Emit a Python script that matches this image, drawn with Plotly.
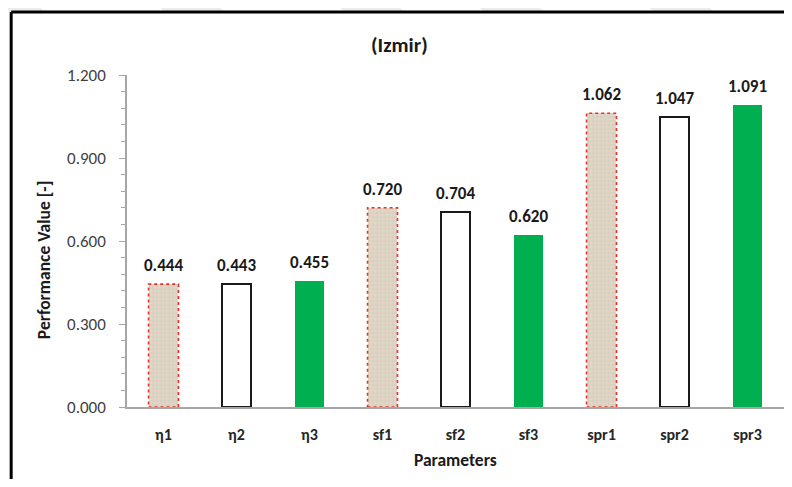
import plotly.graph_objects as go

# data
categories = ["η1", "η2", "η3", "sf1", "sf2", "sf3", "spr1", "spr2", "spr3"]
values = [0.444, 0.443, 0.455, 0.720, 0.704, 0.620, 1.062, 1.047, 1.091]
styles = ["tex", "open", "green", "tex", "open", "green", "tex", "open", "green"]

FONT = "Calibri, Carlito, Lato, sans-serif"
BAR_W = 0.41

fig = go.Figure()

def subset(kind):
    xs = [c for c, s in zip(categories, styles) if s == kind]
    ys = [v for v, s in zip(values, styles) if s == kind]
    return xs, ys

# textured bars (red dotted outline added as shapes below)
xs, ys = subset("tex")
fig.add_trace(go.Bar(
    x=xs, y=ys, width=BAR_W,
    marker=dict(color="#ddd3c2",
                pattern=dict(shape="+", fgcolor="#c2b59c", bgcolor="#e0d7c8",
                             size=4, solidity=0.25),
                line=dict(width=0)),
    showlegend=False, hoverinfo="x+y"
))

# open bars
xs, ys = subset("open")
fig.add_trace(go.Bar(
    x=xs, y=ys, width=BAR_W,
    marker=dict(color="white", line=dict(color="#1a1a1a", width=2)),
    showlegend=False, hoverinfo="x+y"
))

# green bars
xs, ys = subset("green")
fig.add_trace(go.Bar(
    x=xs, y=ys, width=BAR_W,
    marker=dict(color="#00b050", line=dict(width=0)),
    showlegend=False, hoverinfo="x+y"
))

# dotted red outlines around textured bars
for i, (v, s) in enumerate(zip(values, styles)):
    if s == "tex":
        fig.add_shape(type="rect", xref="x", yref="y",
                      x0=i - BAR_W / 2, x1=i + BAR_W / 2, y0=0, y1=v,
                      line=dict(color="#e8302a", width=1.6, dash="dot"))

# value labels
for c, v in zip(categories, values):
    fig.add_annotation(x=c, y=v, text=f"<b>{v:.3f}</b>", showarrow=False,
                       yanchor="bottom", yshift=6,
                       font=dict(family=FONT, size=17, color="#1a1a1a"))

# faint watermark bands above the frame
for x0 in [-30, 150, 330, 470, 640]:
    fig.add_shape(type="path", xref="paper", yref="paper",
                  path=f"M {(x0 - 127) / 658} 1.23 L {(x0 + 60 - 127) / 658} 1.23 "
                       f"L {(x0 + 75 - 127) / 658} 1.19 L {(x0 + 15 - 127) / 658} 1.19 Z",
                  fillcolor="#ececec", line=dict(width=0), layer="below")

# chart frame: only the top and left edges are inside the picture
fx0, fy1 = -0.1763, 1.1898
fig.add_shape(type="line", xref="paper", yref="paper",
              x0=fx0, x1=1.0, y0=fy1, y1=fy1,
              line=dict(color="black", width=3))
fig.add_shape(type="line", xref="paper", yref="paper",
              x0=fx0, x1=fx0, y0=-0.3, y1=fy1,
              line=dict(color="black", width=3))

# titles
fig.add_annotation(x=0.415, y=(407 - 45) / 332, xref="paper", yref="paper",
                   xanchor="center", yanchor="middle",
                   text="<b>(Izmir)</b>", showarrow=False,
                   font=dict(family=FONT, size=21, color="#1a1a1a"))
fig.add_annotation(x=(44 - 127) / 658, y=(407 - 260) / 332, xref="paper", yref="paper",
                   xanchor="center", yanchor="middle",
                   text="<b>Performance Value [-]</b>", showarrow=False, textangle=-90,
                   font=dict(family=FONT, size=17.5, color="#1a1a1a"))
fig.add_annotation(x=0.5, y=(407 - 460) / 332, xref="paper", yref="paper",
                   xanchor="center", yanchor="middle",
                   text="<b>Parameters</b>", showarrow=False,
                   font=dict(family=FONT, size=17.5, color="#1a1a1a"))

fig.update_xaxes(
    type="category", categoryorder="array", categoryarray=categories,
    range=[-0.5, len(categories) - 0.5],
    showline=True, linecolor="#a6a6a6", linewidth=1.5,
    showgrid=False, ticks="", ticklabelstandoff=12,
    tickfont=dict(family=FONT, size=16, color="#262626", weight="bold")
)
fig.update_yaxes(
    range=[0, 1.2], dtick=0.3, tickformat=".3f",
    showline=True, linecolor="#a6a6a6", linewidth=1.5,
    showgrid=False, zeroline=False,
    ticks="outside", ticklen=6, tickcolor="#a6a6a6", ticklabelstandoff=10,
    minor=dict(dtick=0.06, ticks="outside", ticklen=4, tickcolor="#a6a6a6"),
    tickfont=dict(family=FONT, size=17, color="#404040")
)

# page has an 8px body margin: keep the figure inside the window
fig.update_layout(
    width=776, height=471,
    margin=dict(l=119, r=0, t=67, b=72),
    paper_bgcolor="white", plot_bgcolor="white",
    barmode="overlay", bargap=0,
)

fig.write_html("out.html")
